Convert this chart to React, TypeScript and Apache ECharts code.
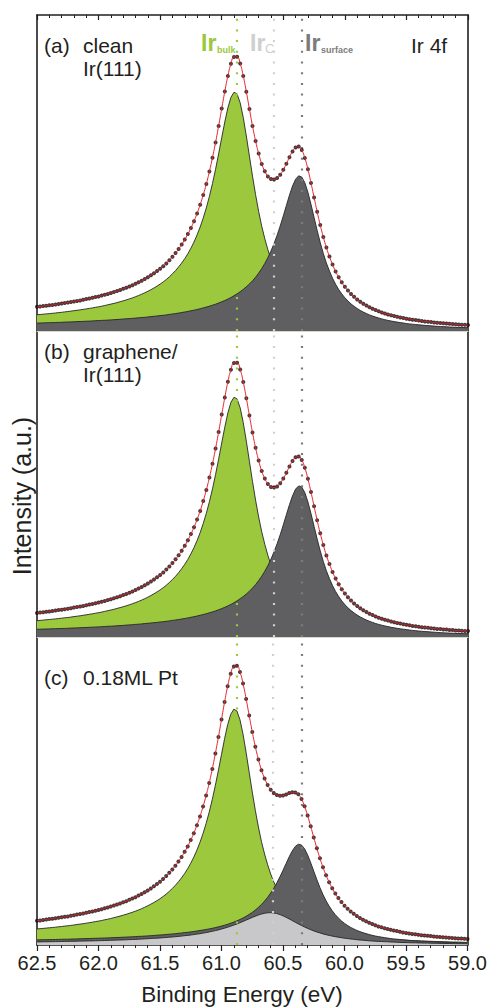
import { useEffect, useRef } from "react";
import * as echarts from "echarts";

// Binding-energy sampling of the Ir 4f7/2 spectra (eV), 62.5 eV down to 59.0 eV in 25 meV steps
const energyStart = 62.5;
const energyStep = 0.025;
const pointCount = 141;
const energies = Array.from({ length: pointCount }, (_, i) =>
  Math.round((energyStart - i * energyStep) * 1000) / 1000
);

// Component positions (eV): Ir bulk, Ir_C, Ir surface
const peakEnergies = [60.875, 60.575, 60.35];

// (a) clean Ir(111)
const bulkA = [
  16.3, 16.5, 16.8, 17.1, 17.4, 17.7, 18.0, 18.4, 18.7, 19.1,
  19.5, 19.9, 20.3, 20.7, 21.1, 21.6, 22.1, 22.6, 23.1, 23.7,
  24.2, 24.8, 25.5, 26.2, 26.9, 27.6, 28.4, 29.3, 30.2, 31.1,
  32.1, 33.1, 34.3, 35.5, 36.8, 38.2, 39.7, 41.3, 43.0, 44.9,
  46.9, 49.1, 51.5, 54.2, 57.2, 60.4, 64.1, 68.0, 72.4, 77.3,
  82.8, 89.0, 96.1, 104.0, 113.0, 123.1, 134.6, 147.5, 161.7, 177.1,
  193.2, 209.0, 223.1, 233.7, 238.8, 237.0, 228.2, 213.5, 195.0, 174.9,
  154.9, 136.3, 119.5, 104.7, 92.2, 81.2, 71.9, 63.9, 57.1, 51.2,
  46.1, 41.8, 38.0, 34.6, 31.7, 29.2, 26.9, 24.8, 23.0, 21.4,
  20.0, 18.7, 17.5, 16.4, 15.4, 14.5, 13.7, 12.9, 12.3, 11.6,
  11.0, 10.5, 10.0, 9.5, 9.1, 8.7, 8.3, 7.9, 7.6, 7.3,
  7.0, 6.7, 6.4, 6.2, 6.0, 5.7, 5.5, 5.4, 5.2, 5.0,
  4.8, 4.7, 4.5, 4.4, 4.2, 4.1, 4.0, 3.9, 3.7, 3.6,
  3.5, 3.4, 3.3, 3.2, 3.2, 3.1, 3.0, 2.9, 2.8, 2.8,
  2.7,
];
const surfaceA = [
  7.9, 8.0, 8.1, 8.2, 8.3, 8.4, 8.5, 8.6, 8.7, 8.9,
  9.0, 9.1, 9.2, 9.4, 9.5, 9.6, 9.8, 9.9, 10.1, 10.3,
  10.4, 10.6, 10.7, 10.9, 11.1, 11.3, 11.5, 11.7, 12.0, 12.2,
  12.4, 12.6, 12.9, 13.2, 13.5, 13.7, 14.0, 14.4, 14.7, 15.0,
  15.4, 15.7, 16.1, 16.6, 17.0, 17.5, 17.9, 18.5, 19.0, 19.6,
  20.2, 20.8, 21.5, 22.3, 23.1, 23.9, 24.8, 25.8, 26.8, 28.0,
  29.2, 30.5, 31.9, 33.5, 35.3, 37.2, 39.3, 41.6, 44.2, 47.0,
  50.2, 53.8, 57.9, 62.4, 67.6, 73.4, 80.0, 87.5, 95.8, 105.1,
  115.1, 125.5, 135.8, 145.0, 151.8, 155.2, 154.0, 148.3, 138.7, 126.7,
  113.6, 100.6, 88.5, 77.6, 68.0, 59.9, 52.8, 46.7, 41.5, 37.1,
  33.3, 30.0, 27.1, 24.7, 22.5, 20.6, 18.9, 17.5, 16.1, 15.0,
  13.9, 13.0, 12.1, 11.3, 10.6, 10.0, 9.4, 8.9, 8.4, 8.0,
  7.5, 7.1, 6.8, 6.5, 6.2, 5.9, 5.6, 5.4, 5.2, 4.9,
  4.7, 4.5, 4.4, 4.2, 4.0, 3.9, 3.7, 3.6, 3.5, 3.4,
  3.2,
];
const measuredA = [
  24.2, 24.5, 24.9, 25.3, 25.7, 26.1, 26.5, 27.0, 27.4, 28.0,
  28.5, 29.0, 29.5, 30.1, 30.6, 31.2, 31.9, 32.5, 33.2, 34.0,
  34.6, 35.4, 36.2, 37.1, 38.0, 38.9, 39.9, 41.0, 42.2, 43.3,
  44.5, 45.7, 47.2, 48.7, 50.3, 51.9, 53.7, 55.7, 57.7, 59.9,
  62.3, 64.8, 67.6, 70.8, 74.2, 77.9, 82.0, 86.5, 91.4, 96.9,
  103.0, 109.8, 117.6, 126.3, 136.1, 147.0, 159.4, 173.3, 188.5, 205.1,
  222.4, 239.5, 255.0, 267.2, 274.1, 274.2, 267.5, 255.1, 239.2, 221.9,
  205.1, 190.1, 177.4, 167.1, 159.8, 154.6, 151.9, 151.4, 152.9, 156.3,
  161.2, 167.3, 173.8, 179.6, 183.5, 184.4, 180.9, 173.1, 161.7, 148.1,
  133.6, 119.3, 106.0, 94.0, 83.4, 74.4, 66.5, 59.6, 53.8, 48.7,
  44.3, 40.5, 37.1, 34.2, 31.6, 29.3, 27.2, 25.4, 23.7, 22.3,
  20.9, 19.7, 18.5, 17.5, 16.6, 15.7, 14.9, 14.3, 13.6, 13.0,
  12.3, 11.8, 11.3, 10.9, 10.4, 10.0, 9.6, 9.3, 8.9, 8.5,
  8.2, 7.9, 7.7, 7.4, 7.2, 7.0, 6.7, 6.5, 6.3, 6.2,
  5.9,
];

// (b) graphene/Ir(111)
const bulkB = [
  16.3, 16.6, 16.9, 17.2, 17.5, 17.8, 18.1, 18.5, 18.8, 19.2,
  19.5, 19.9, 20.4, 20.8, 21.2, 21.7, 22.2, 22.7, 23.2, 23.8,
  24.3, 24.9, 25.6, 26.3, 27.0, 27.7, 28.6, 29.4, 30.3, 31.2,
  32.2, 33.3, 34.4, 35.6, 36.9, 38.3, 39.8, 41.5, 43.2, 45.1,
  47.1, 49.3, 51.8, 54.5, 57.5, 60.7, 64.3, 68.3, 72.7, 77.6,
  83.2, 89.4, 96.5, 104.4, 113.5, 123.7, 135.2, 148.1, 162.4, 177.8,
  194.0, 209.8, 224.1, 234.7, 239.8, 238.0, 229.1, 214.4, 195.8, 175.6,
  155.5, 136.8, 120.0, 105.1, 92.6, 81.5, 72.2, 64.2, 57.3, 51.4,
  46.3, 41.9, 38.2, 34.8, 31.8, 29.3, 27.0, 24.9, 23.1, 21.5,
  20.0, 18.7, 17.5, 16.4, 15.4, 14.5, 13.7, 13.0, 12.3, 11.7,
  11.0, 10.5, 10.0, 9.5, 9.1, 8.7, 8.3, 8.0, 7.6, 7.3,
  7.0, 6.7, 6.5, 6.2, 6.0, 5.8, 5.6, 5.4, 5.2, 5.0,
  4.8, 4.7, 4.5, 4.4, 4.3, 4.1, 4.0, 3.9, 3.8, 3.7,
  3.5, 3.5, 3.4, 3.3, 3.2, 3.1, 3.0, 3.0, 2.9, 2.8,
  2.7,
];
const surfaceB = [
  7.7, 7.8, 7.9, 8.0, 8.1, 8.2, 8.3, 8.4, 8.5, 8.6,
  8.7, 8.9, 9.0, 9.1, 9.3, 9.4, 9.5, 9.7, 9.8, 10.0,
  10.1, 10.3, 10.5, 10.7, 10.8, 11.0, 11.2, 11.4, 11.6, 11.9,
  12.1, 12.3, 12.6, 12.8, 13.1, 13.4, 13.7, 14.0, 14.3, 14.6,
  15.0, 15.3, 15.7, 16.1, 16.6, 17.0, 17.5, 18.0, 18.5, 19.1,
  19.7, 20.3, 21.0, 21.7, 22.5, 23.3, 24.2, 25.1, 26.1, 27.2,
  28.4, 29.7, 31.1, 32.6, 34.3, 36.2, 38.3, 40.5, 43.0, 45.8,
  48.9, 52.4, 56.4, 60.8, 65.8, 71.5, 77.9, 85.2, 93.3, 102.3,
  112.1, 122.3, 132.3, 141.2, 147.9, 151.1, 150.0, 144.4, 135.1, 123.4,
  110.7, 98.0, 86.2, 75.6, 66.2, 58.4, 51.4, 45.5, 40.5, 36.1,
  32.4, 29.2, 26.4, 24.1, 21.9, 20.1, 18.5, 17.0, 15.7, 14.6,
  13.5, 12.6, 11.8, 11.1, 10.4, 9.7, 9.2, 8.7, 8.2, 7.8,
  7.4, 7.0, 6.6, 6.3, 6.0, 5.7, 5.5, 5.3, 5.0, 4.8,
  4.6, 4.4, 4.2, 4.1, 3.9, 3.8, 3.6, 3.5, 3.4, 3.3,
  3.2,
];
const measuredB = [
  24.0, 24.4, 24.8, 25.2, 25.6, 26.0, 26.4, 26.9, 27.3, 27.8,
  28.2, 28.8, 29.4, 29.9, 30.5, 31.1, 31.7, 32.4, 33.0, 33.8,
  34.4, 35.2, 36.1, 37.0, 37.8, 38.7, 39.8, 40.8, 41.9, 43.1,
  44.3, 45.6, 47.0, 48.4, 50.0, 51.7, 53.5, 55.5, 57.5, 59.7,
  62.1, 64.6, 67.5, 70.6, 74.1, 77.7, 81.8, 86.3, 91.2, 96.7,
  102.9, 109.7, 117.5, 126.1, 136.0, 147.0, 159.4, 173.2, 188.5, 205.0,
  222.4, 239.5, 255.2, 267.3, 274.1, 274.2, 267.4, 254.9, 238.8, 221.4,
  204.4, 189.2, 176.4, 165.9, 158.4, 153.0, 150.1, 149.4, 150.6, 153.7,
  158.4, 164.2, 170.5, 176.0, 179.7, 180.4, 177.0, 169.3, 158.2, 144.9,
  130.7, 116.7, 103.7, 92.0, 81.6, 72.9, 65.1, 58.5, 52.8, 47.8,
  43.4, 39.7, 36.4, 33.6, 31.0, 28.8, 26.8, 25.0, 23.3, 21.9,
  20.5, 19.3, 18.3, 17.3, 16.4, 15.5, 14.8, 14.1, 13.4, 12.8,
  12.2, 11.7, 11.1, 10.7, 10.3, 9.8, 9.5, 9.2, 8.8, 8.5,
  8.1, 7.9, 7.6, 7.4, 7.1, 6.9, 6.6, 6.5, 6.3, 6.1,
  5.9,
];

// (c) 0.18 ML Pt
const bulkC = [
  16.1, 16.3, 16.6, 16.9, 17.2, 17.5, 17.8, 18.2, 18.5, 18.9,
  19.2, 19.6, 20.0, 20.5, 20.9, 21.3, 21.8, 22.3, 22.8, 23.4,
  23.9, 24.5, 25.2, 25.8, 26.5, 27.3, 28.1, 28.9, 29.8, 30.7,
  31.7, 32.7, 33.8, 35.0, 36.3, 37.7, 39.2, 40.8, 42.5, 44.3,
  46.3, 48.5, 50.9, 53.6, 56.5, 59.7, 63.3, 67.1, 71.5, 76.3,
  81.8, 87.9, 94.9, 102.7, 111.6, 121.6, 132.9, 145.6, 159.7, 174.8,
  190.7, 206.3, 220.3, 230.7, 235.8, 234.0, 225.3, 210.8, 192.5, 172.6,
  152.9, 134.5, 118.0, 103.3, 91.0, 80.2, 70.9, 63.1, 56.4, 50.6,
  45.6, 41.2, 37.6, 34.2, 31.3, 28.8, 26.6, 24.5, 22.7, 21.1,
  19.7, 18.4, 17.2, 16.2, 15.2, 14.3, 13.5, 12.8, 12.1, 11.5,
  10.9, 10.3, 9.9, 9.4, 9.0, 8.5, 8.2, 7.8, 7.5, 7.2,
  6.9, 6.6, 6.4, 6.1, 5.9, 5.7, 5.5, 5.3, 5.1, 4.9,
  4.8, 4.6, 4.5, 4.3, 4.2, 4.0, 3.9, 3.8, 3.7, 3.6,
  3.5, 3.4, 3.3, 3.2, 3.1, 3.0, 3.0, 2.9, 2.8, 2.7,
  2.7,
];
const surfaceC = [
  5.1, 5.2, 5.3, 5.3, 5.4, 5.5, 5.5, 5.6, 5.7, 5.8,
  5.8, 5.9, 6.0, 6.1, 6.2, 6.3, 6.4, 6.5, 6.6, 6.7,
  6.8, 6.9, 7.0, 7.1, 7.2, 7.4, 7.5, 7.6, 7.8, 7.9,
  8.1, 8.2, 8.4, 8.6, 8.7, 8.9, 9.1, 9.3, 9.5, 9.8,
  10.0, 10.2, 10.5, 10.8, 11.0, 11.3, 11.7, 12.0, 12.4, 12.7,
  13.1, 13.5, 14.0, 14.5, 15.0, 15.5, 16.1, 16.7, 17.4, 18.2,
  18.9, 19.8, 20.7, 21.8, 22.9, 24.2, 25.5, 27.0, 28.7, 30.6,
  32.6, 35.0, 37.6, 40.5, 43.9, 47.7, 52.0, 56.8, 62.2, 68.2,
  74.7, 81.5, 88.2, 94.1, 98.6, 100.8, 100.0, 96.3, 90.1, 82.3,
  73.8, 65.4, 57.5, 50.4, 44.2, 38.9, 34.3, 30.3, 27.0, 24.1,
  21.6, 19.5, 17.6, 16.1, 14.6, 13.4, 12.3, 11.4, 10.5, 9.7,
  9.0, 8.4, 7.9, 7.4, 6.9, 6.5, 6.1, 5.8, 5.5, 5.2,
  4.9, 4.6, 4.4, 4.2, 4.0, 3.8, 3.7, 3.5, 3.4, 3.2,
  3.1, 2.9, 2.8, 2.7, 2.6, 2.5, 2.4, 2.3, 2.3, 2.2,
  2.1,
];
const irCC = [
  3.1, 3.1, 3.2, 3.2, 3.3, 3.3, 3.4, 3.4, 3.5, 3.6,
  3.6, 3.7, 3.7, 3.8, 3.9, 3.9, 4.0, 4.1, 4.1, 4.2,
  4.3, 4.4, 4.5, 4.6, 4.7, 4.8, 4.9, 5.0, 5.1, 5.2,
  5.4, 5.5, 5.6, 5.8, 5.9, 6.1, 6.3, 6.5, 6.7, 6.8,
  7.0, 7.3, 7.5, 7.8, 8.0, 8.3, 8.6, 8.9, 9.3, 9.6,
  10.0, 10.4, 10.9, 11.3, 11.9, 12.4, 13.0, 13.7, 14.4, 15.1,
  16.0, 16.8, 17.8, 18.8, 19.9, 21.0, 22.3, 23.6, 24.9, 26.2,
  27.6, 28.8, 30.0, 31.0, 31.7, 32.2, 32.3, 32.0, 31.4, 30.4,
  29.2, 27.7, 26.1, 24.4, 22.7, 21.1, 19.5, 18.0, 16.6, 15.3,
  14.1, 13.0, 12.1, 11.1, 10.3, 9.6, 8.9, 8.3, 7.8, 7.3,
  6.8, 6.4, 6.0, 5.7, 5.3, 5.0, 4.8, 4.5, 4.2, 4.0,
  3.8, 3.6, 3.5, 3.3, 3.2, 3.0, 2.9, 2.8, 2.6, 2.5,
  2.4, 2.3, 2.2, 2.2, 2.1, 2.0, 1.9, 1.9, 1.8, 1.7,
  1.7, 1.6, 1.6, 1.5, 1.5, 1.4, 1.4, 1.3, 1.3, 1.3,
  1.2,
];
const measuredC = [
  24.3, 24.6, 25.1, 25.4, 25.9, 26.3, 26.7, 27.2, 27.7, 28.3,
  28.6, 29.2, 29.7, 30.4, 31.0, 31.5, 32.2, 32.9, 33.5, 34.3,
  35.0, 35.8, 36.7, 37.5, 38.4, 39.5, 40.5, 41.5, 42.7, 43.8,
  45.2, 46.4, 47.8, 49.4, 50.9, 52.7, 54.6, 56.6, 58.7, 60.9,
  63.3, 66.0, 68.9, 72.2, 75.5, 79.3, 83.6, 88.0, 93.2, 98.6,
  104.9, 111.8, 119.8, 128.5, 138.5, 149.5, 162.0, 176.0, 191.5, 208.1,
  225.6, 242.9, 258.8, 271.3, 278.6, 279.2, 273.1, 261.4, 246.1, 229.4,
  213.1, 198.3, 185.6, 174.8, 166.6, 160.1, 155.2, 151.9, 150.0, 149.2,
  149.5, 150.4, 151.9, 152.7, 152.6, 150.7, 146.1, 138.8, 129.4, 118.7,
  107.6, 96.8, 86.8, 77.7, 69.7, 62.8, 56.7, 51.4, 46.9, 42.9,
  39.3, 36.2, 33.5, 31.2, 28.9, 26.9, 25.3, 23.7, 22.2, 20.9,
  19.7, 18.6, 17.8, 16.8, 16.0, 15.2, 14.5, 13.9, 13.2, 12.6,
  12.1, 11.5, 11.1, 10.7, 10.3, 9.8, 9.5, 9.2, 8.9, 8.5,
  8.3, 7.9, 7.7, 7.4, 7.2, 6.9, 6.8, 6.5, 6.4, 6.2,
  6.0,
];

const INK = "#231f20";
const GREEN = "#9bc83d";
const DARK = "#5f5f62";
const LIGHT = "#c8c8ca";
const RED = "#e3232b";
const FONT = '"Liberation Sans", Arial, Helvetica, sans-serif';

const peakColors = ["#9cc83c", "#d0d0d0", "#7c7c7c"];

type Panel = {
  top: number;
  height: number;
  components: { values: number[]; color: string }[];
  measured: number[];
};

const panels: Panel[] = [
  {
    top: 15,
    height: 316,
    components: [
      { values: bulkA, color: GREEN },
      { values: surfaceA, color: DARK },
    ],
    measured: measuredA,
  },
  {
    top: 331,
    height: 306,
    components: [
      { values: bulkB, color: GREEN },
      { values: surfaceB, color: DARK },
    ],
    measured: measuredB,
  },
  {
    top: 637,
    height: 308,
    components: [
      { values: bulkC, color: GREEN },
      { values: surfaceC, color: DARK },
      { values: irCC, color: LIGHT },
    ],
    measured: measuredC,
  },
];

const pairs = (values: number[]) => energies.map((e, i) => [e, values[i]]);

function buildOption() {
  const grid = panels.map((p) => ({ left: 37, width: 431, top: p.top, height: p.height }));

  const baseX = {
    type: "value" as const,
    min: 59,
    max: 62.5,
    interval: 0.5,
    inverse: true,
    splitLine: { show: false },
  };

  const xAxis: any[] = panels.map((_, i) => {
    const last = i === panels.length - 1;
    return {
      ...baseX,
      gridIndex: i,
      position: "bottom",
      axisLine: {
        show: true,
        onZero: false,
        lineStyle: last ? { color: INK, width: 1.6 } : { color: "#d6d9ca", width: 1 },
      },
      axisTick: last
        ? { show: true, inside: false, length: 6, lineStyle: { color: INK, width: 1.2 } }
        : { show: false },
      minorTick: last
        ? { show: true, splitNumber: 5, length: 3, lineStyle: { color: INK, width: 1 } }
        : { show: false },
      axisLabel: last
        ? {
            show: true,
            fontSize: 20,
            fontFamily: FONT,
            color: INK,
            margin: 8,
            formatter: (v: number) => v.toFixed(1),
          }
        : { show: false },
    };
  });
  // top frame with inward ticks
  xAxis.push({
    ...baseX,
    gridIndex: 0,
    position: "top",
    axisLine: { show: true, onZero: false, lineStyle: { color: INK, width: 1.6 } },
    axisTick: { show: true, inside: true, length: 5, lineStyle: { color: INK, width: 1.2 } },
    minorTick: { show: true, splitNumber: 5, length: 3, lineStyle: { color: INK, width: 1 } },
    axisLabel: { show: false },
  });

  const frameY = (i: number, position: "left" | "right") => ({
    type: "value" as const,
    gridIndex: i,
    position,
    min: 0,
    max: panels[i].height,
    axisLine: { show: true, onZero: false, lineStyle: { color: INK, width: 1.6 } },
    axisTick: { show: false },
    axisLabel: { show: false },
    splitLine: { show: false },
  });
  const yAxis = [
    ...panels.map((_, i) => frameY(i, "left")),
    ...panels.map((_, i) => frameY(i, "right")),
  ];

  const series: any[] = [];
  panels.forEach((p, i) => {
    // dotted guides at the component energies, behind the fills
    series.push({
      type: "line",
      xAxisIndex: i,
      yAxisIndex: i,
      data: [],
      silent: true,
      z: 1,
      markLine: {
        silent: true,
        symbol: "none",
        animation: false,
        label: { show: false },
        data: peakEnergies.map((e, j) => ({
          xAxis: e,
          lineStyle: { color: peakColors[j], type: [2, 8.7], width: 2.2 },
        })),
      },
    });
    p.components.forEach((c, j) => {
      series.push({
        type: "line",
        xAxisIndex: i,
        yAxisIndex: i,
        data: pairs(c.values),
        showSymbol: false,
        smooth: false,
        silent: true,
        z: 2 + j,
        lineStyle: { color: "#262626", width: 0.9 },
        areaStyle: { color: c.color, opacity: 1 },
      });
    });
    series.push({
      type: "scatter",
      xAxisIndex: i,
      yAxisIndex: i,
      data: pairs(p.measured),
      symbol: "circle",
      symbolSize: 4,
      itemStyle: { color: "#0d0d0d" },
      silent: true,
      z: 8,
    });
    series.push({
      type: "line",
      xAxisIndex: i,
      yAxisIndex: i,
      data: pairs(p.measured),
      showSymbol: false,
      smooth: true,
      silent: true,
      z: 9,
      lineStyle: { color: RED, width: 1 },
    });
  });

  const txt = (
    text: string,
    x: number,
    y: number,
    extra: Record<string, any> = {}
  ) => ({
    type: "text",
    x,
    y,
    z: 20,
    silent: true,
    style: {
      text,
      fontSize: 20,
      fontFamily: FONT,
      fill: INK,
      align: "left",
      verticalAlign: "middle",
      ...extra,
    },
  });

  const graphic: any[] = [
    txt("(a)", 44, 45, { fontSize: 21 }),
    txt("clean", 83, 45, { fontSize: 21 }),
    txt("Ir(111)", 83, 68, { fontSize: 21 }),
    txt("Ir 4f", 411, 45, { fontSize: 21 }),
    txt("(b)", 44, 351, { fontSize: 21 }),
    txt("graphene/", 83, 351, { fontSize: 21 }),
    txt("Ir(111)", 83, 374, { fontSize: 21 }),
    txt("(c)", 44, 677, { fontSize: 21 }),
    txt("0.18ML Pt", 83, 677, { fontSize: 21 }),
    txt("Ir", 201, 43, { fill: GREEN, fontWeight: "bold", fontSize: 23 }),
    txt("bulk", 217, 50, { fill: GREEN, fontWeight: "bold", fontSize: 9 }),
    txt("Ir", 250, 43, { fill: "#cfcfcf", fontWeight: "bold", fontSize: 23 }),
    txt("C", 265, 48, { fill: "#cfcfcf", fontSize: 13 }),
    txt("Ir", 305, 43, { fill: "#7c7c7c", fontWeight: "bold", fontSize: 23 }),
    txt("surface", 321, 50, { fill: "#7c7c7c", fontWeight: "bold", fontSize: 9 }),
    txt("Binding Energy (eV)", 242, 994, { align: "center", fontSize: 22.5 }),
    {
      ...txt("Intensity (a.u.)", 22, 496, { align: "center", fontSize: 25 }),
      rotation: Math.PI / 2,
    },
  ];

  return {
    animation: false,
    backgroundColor: "#ffffff",
    grid,
    xAxis,
    yAxis,
    series,
    graphic,
  };
}

export default function App() {
  const ref = useRef<HTMLDivElement>(null);
  useEffect(() => {
    if (!ref.current) return;
    const chart = echarts.init(ref.current, undefined, { renderer: "svg" });
    chart.setOption(buildOption());
    return () => chart.dispose();
  }, []);
  return (
    <div
      ref={ref}
      style={{ position: "fixed", left: 0, top: 0, width: 490, height: 1008, background: "#fff" }}
    />
  );
}
